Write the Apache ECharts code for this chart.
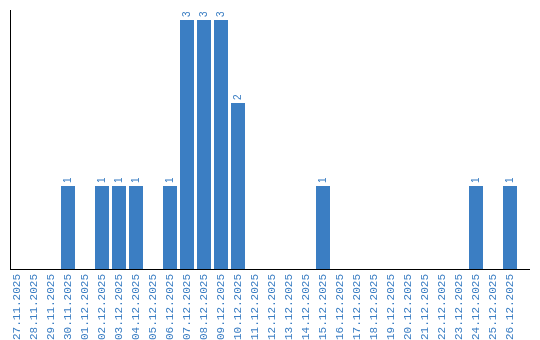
<!DOCTYPE html>
<html><head><meta charset="utf-8">
<script src="https://cdn.jsdelivr.net/npm/echarts@6/dist/echarts.min.js"></script>
<style>html,body{margin:0;padding:0;background:#fff}#c{width:540px;height:340px}</style>
</head><body><div id="c"></div>
<script>
const categories = ["27.11.2025","28.11.2025","29.11.2025","30.11.2025","01.12.2025","02.12.2025","03.12.2025","04.12.2025","05.12.2025","06.12.2025","07.12.2025","08.12.2025","09.12.2025","10.12.2025","11.12.2025","12.12.2025","13.12.2025","14.12.2025","15.12.2025","16.12.2025","17.12.2025","18.12.2025","19.12.2025","20.12.2025","21.12.2025","22.12.2025","23.12.2025","24.12.2025","25.12.2025","26.12.2025"];
const counts = [0,0,0,1,0,1,1,1,0,1,3,3,3,2,0,0,0,0,1,0,0,0,0,0,0,0,0,1,0,1];
const blue = '#3b7ec3';
const chart = echarts.init(document.getElementById('c'));
chart.setOption({
  animation:false,
  grid:{left:8.5,top:20,width:510,height:249,containLabel:false,outerBoundsMode:'none'},
  xAxis:{type:'category',data:categories,
    axisLine:{show:false},axisTick:{show:false},
    axisLabel:{rotate:90,interval:0,color:blue,fontFamily:'Liberation Mono',fontSize:11,margin:5}},
  yAxis:{type:'value',min:0,max:3,splitLine:{show:false},axisLine:{show:false},axisTick:{show:false},axisLabel:{show:false}},
  series:[{type:'bar',data:counts.map(v=>v===0?null:v),barWidth:14,itemStyle:{color:blue},
    label:{show:true,position:'top',rotate:90,align:'left',verticalAlign:'middle',distance:3,color:blue,fontFamily:'Liberation Sans',fontSize:10}}],
  graphic:[
    {type:'line',shape:{x1:10.5,y1:10,x2:10.5,y2:270},style:{stroke:'#000',lineWidth:1},z:10},
    {type:'line',shape:{x1:10,y1:269.5,x2:530,y2:269.5},style:{stroke:'#000',lineWidth:1},z:10}
  ]
});
</script></body></html>
